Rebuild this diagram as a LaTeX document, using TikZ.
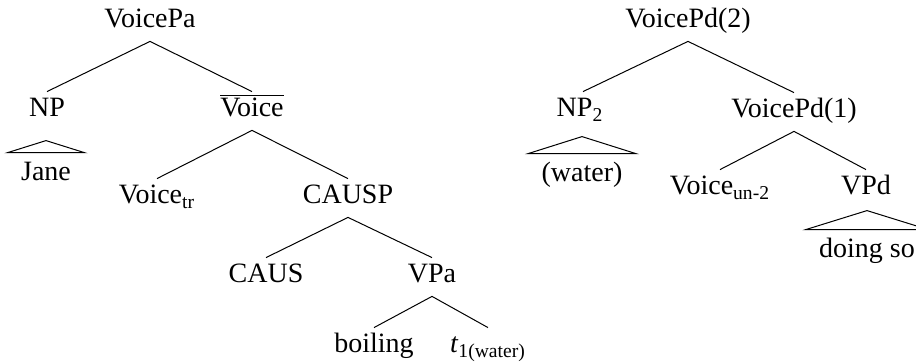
\documentclass[tikz,border=0pt]{standalone}
\usepackage{fontspec}
\setmainfont{Liberation Serif}
\usetikzlibrary{calc}
\begin{document}
\fontsize{14}{17}\selectfont
\begin{tikzpicture}[x=0.5pt,y=-0.5pt,
  lbl/.style={anchor=base,inner sep=0pt,text height=12.5pt,text depth=6.5pt},
  leaf/.style={anchor=base,inner sep=0pt,text height=14pt,text depth=3pt},
  branch/.style={line width=0.5pt},
  roof/.style={line width=0.5pt,line join=miter}]
\useasboundingbox (0,0) rectangle (916,362);
\clip (0,0) rectangle (916,362);

% ---------- left tree ----------
\node[lbl] (vpa)   at (150,28)  {VoicePa};
\node[lbl] (np)    at (47,117)  {NP};
\node[lbl] (vbar)  at (252,117) {$\overline{\mbox{Voice}}$};
\node[leaf] (jane) at (46,181)  {Jane};
\node[lbl] (vtr)   at (157,204) {Voice\textsubscript{tr}};
\node[lbl] (causp) at (348,204) {CAUSP};
\node[lbl] (caus)  at (266,283) {CAUS};
\node[lbl] (vpa2)  at (432,283) {VPa};
\node[lbl] (boil)  at (374,353) {boiling};
\node[lbl] (trace) at (488,353) {\textit{t}\textsubscript{1(water)}};

\draw[branch] (vpa.south) -- (np.north);
\draw[branch] (vpa.south) -- (vbar.north);
\draw[branch] (vbar.south) -- (vtr.north);
\draw[branch] (vbar.south) -- (causp.north);
\draw[branch] (causp.south) -- (caus.north);
\draw[branch] (causp.south) -- (vpa2.north);
\draw[branch] (vpa2.south) -- (boil.north);
\draw[branch] (vpa2.south) -- (trace.north);

% roof over Jane
\coordinate (jane-l) at ($(jane.north west)+(-13,0)$);
\coordinate (jane-r) at ($(jane.north east)+(13,0)$);
\coordinate (jane-t) at ($(jane.north)+(0,-12)$);
\draw[roof] (jane-l) -- (jane-t) -- (jane-r) -- cycle;

% ---------- right tree ----------
\node[lbl] (vpd2)  at (688,28)  {VoicePd(2)};
\node[lbl] (np2)   at (580,117) {NP\textsubscript{2}};
\node[lbl] (vpd1)  at (794,118) {VoicePd(1)};
\node[leaf] (water) at (582,182) {(water)};
\node[lbl] (vun)   at (720,195) {Voice\textsubscript{un-2}};
\node[lbl] (vpd)   at (866,195) {VPd};
\node[leaf] (doing) at (867,258) {doing so};

\draw[branch] (vpd2.south) -- ($(np2.north)+(3,0)$);
\draw[branch] (vpd2.south) -- (vpd1.north);
\draw[branch] (vpd1.south) -- (vun.north);
\draw[branch] (vpd1.south) -- (vpd.north);

% roof over (water)
\coordinate (water-l) at ($(water.north west)+(-13,0)$);
\coordinate (water-r) at ($(water.north east)+(13,0)$);
\coordinate (water-t) at ($(water.north)+(0,-17)$);
\draw[roof] (water-l) -- (water-t) -- (water-r) -- cycle;

% roof over "doing so"
\coordinate (doing-l) at ($(doing.north west)+(-13,0)$);
\coordinate (doing-r) at ($(doing.north east)+(13,0)$);
\coordinate (doing-t) at ($(doing.north)+(0,-19)$);
\draw[roof] (doing-l) -- (doing-t) -- (doing-r) -- cycle;
\end{tikzpicture}
\end{document}
